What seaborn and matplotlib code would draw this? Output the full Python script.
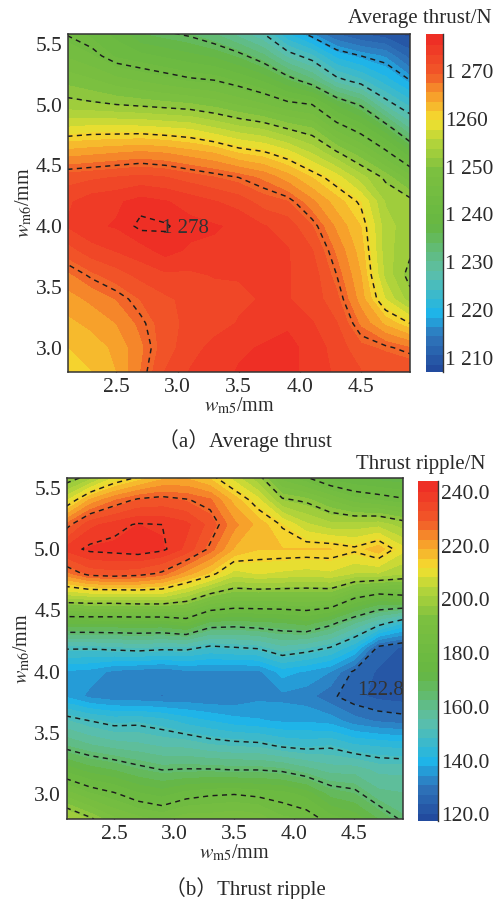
import numpy as np
import pandas as pd
import seaborn as sns
import matplotlib.pyplot as plt
from matplotlib.colors import LinearSegmentedColormap

sns.set_theme(style="ticks")
plt.rcParams['font.family'] = ['Liberation Serif', 'Noto Sans CJK SC']
plt.rcParams['mathtext.fontset'] = 'stix'

w5 = [2.1, 2.3, 2.5, 2.7, 2.9, 3.1, 3.3, 3.5, 3.7, 3.9, 4.1, 4.3, 4.5, 4.7, 4.9]
w6 = [5.6, 5.4, 5.2, 5.0, 4.8, 4.6, 4.4, 4.2, 4.0, 3.8, 3.6, 3.4, 3.2, 3.0, 2.8]

# one list per w5 column, top of the plot first
thrust = [
    [1243, 1246, 1249.5, 1253, 1258.5, 1265, 1271, 1273.5, 1274, 1271, 1267.5, 1265, 1263.5, 1262, 1260.8],
    [1241.5, 1244.5, 1248.5, 1252.5, 1259, 1265.5, 1271.5, 1275, 1275.5, 1273, 1269.5, 1266.5, 1264.5, 1263, 1262],
    [1239.5, 1242, 1247, 1252, 1259, 1266, 1272, 1275.5, 1276, 1274, 1271, 1268, 1266, 1264.5, 1264],
    [1236, 1241, 1246, 1251.5, 1259, 1266.5, 1272.5, 1276.6, 1277.8, 1275, 1272.5, 1270, 1268.5, 1267.5, 1268],
    [1235, 1240, 1245, 1251, 1258.5, 1266, 1272, 1276, 1277.5, 1276.6, 1273.5, 1271.5, 1271, 1271, 1272],
    [1234, 1239, 1244, 1250.5, 1258, 1265, 1271, 1275, 1276.5, 1275.5, 1273.5, 1272.5, 1272.5, 1273, 1274],
    [1232, 1238, 1243.5, 1249.5, 1256.5, 1264, 1270, 1274, 1276, 1275.5, 1274, 1273, 1273, 1274.5, 1275],
    [1229, 1236, 1242, 1248, 1255, 1262, 1269, 1273, 1275.5, 1275.5, 1274, 1273.5, 1274, 1275.5, 1276],
    [1226, 1233, 1240, 1246.5, 1254, 1261, 1267.5, 1271, 1274, 1275, 1274, 1274, 1275, 1276, 1276.5],
    [1220, 1228, 1236.5, 1244.5, 1252, 1259, 1265, 1270, 1273, 1274, 1274, 1274, 1275.5, 1276.5, 1276.5],
    [1216, 1225, 1233, 1243.5, 1250.5, 1256, 1262, 1266.5, 1270, 1272, 1273, 1273, 1274, 1275, 1275],
    [1212, 1220, 1227.5, 1238, 1245.5, 1252.5, 1259, 1263, 1265.5, 1267.5, 1269, 1270.5, 1272, 1273, 1273.5],
    [1210, 1218, 1225, 1234.5, 1242, 1249, 1255, 1260, 1262, 1263, 1264, 1265, 1267.5, 1270.5, 1272],
    [1209, 1216.5, 1221.5, 1228, 1237, 1244.5, 1251.5, 1254, 1255, 1255, 1255.5, 1258, 1263.5, 1269.5, 1272],
    [1208, 1212, 1218, 1224, 1230.5, 1239, 1247, 1253, 1253, 1252.5, 1251, 1253, 1260.5, 1268, 1272],
]
ripple = [
    [192, 208, 227, 238, 225, 202, 174, 151, 138, 138, 153, 163, 176, 190, 203],
    [198, 220, 236, 241, 231, 203, 174, 151, 137, 134, 150, 160, 172, 185, 198],
    [207, 226, 238.5, 241.5, 232, 203, 174, 152, 134, 132.5, 148, 158, 170, 182, 192],
    [212, 230, 240.5, 242.5, 231, 204, 174, 153, 133, 132, 148.5, 157, 167, 178, 189],
    [217, 231, 240, 241, 228, 204, 174, 152, 132, 131.5, 147, 155.5, 165, 176, 187],
    [218, 229.5, 238, 236, 221, 200, 177, 152, 134, 132, 144, 155, 165.5, 179, 190],
    [214, 227, 232, 228, 215, 193, 169, 149, 134, 131.5, 142, 153, 165.5, 180.5, 190],
    [206, 218, 224, 219, 207, 190, 168, 150, 134, 132, 140, 152, 165, 181, 191],
    [198, 210, 218, 216, 209, 190, 169, 151, 134, 134, 139, 151.5, 165, 180, 190],
    [185, 198, 212.5, 216, 208, 190, 170, 155, 140, 134, 138, 149, 164, 179, 185],
    [180, 196, 206, 216, 207, 190, 172, 153, 138, 133, 138, 148, 161, 176, 184],
    [174, 191, 203, 216, 208, 190, 167, 150, 135, 129, 137, 149, 158, 169, 179],
    [172, 186, 203, 214, 205, 181, 160, 143, 127, 125.5, 133, 146, 158, 167, 176],
    [171, 184, 204, 218, 205, 176, 153, 127, 124, 123.5, 131, 145, 155, 161, 170],
    [170, 182, 200, 210, 202, 178, 146, 124, 123, 122.8, 130, 144, 155, 160, 164],
]

thrust_lines = [1218, 1226.5, 1235, 1243.5, 1252, 1260.5, 1269, 1277.3]
ripple_lines = [128, 150, 165, 181, 197, 213, 229, 240]
thrust_ticks = [1210, 1220, 1230, 1240, 1250, 1260, 1270]
thrust_labels = ["1 210", "1 220", "1 230", "1 240", "1 250", "1260", "1 270"]
ripple_ticks = [120, 140, 160, 180, 200, 220, 240]
ripple_labels = ["120.0", "140.0", "160.0", "180.0", "200.0", "220.0", "240.0"]
w5_ticks = [2.5, 3.0, 3.5, 4.0, 4.5]
w6_ticks = [3.0, 3.5, 4.0, 4.5, 5.0, 5.5]

cmap = LinearSegmentedColormap.from_list("thrust", [
    (0.0, "#21469a"), (0.11, "#2f77bc"), (0.18, "#1fb4e8"), (0.30, "#5dbfa8"),
    (0.44, "#66b742"), (0.60, "#7cc040"), (0.69, "#b5d53a"), (0.75, "#f5e02f"),
    (0.82, "#f7a12b"), (0.89, "#f15a29"), (1.0, "#ee2a24")])
W, H = 495, 899


def panel(values, lines, lo, hi, ticks, ticklabels, title, caption, box, cbox, title_x, title_y, cap_y, note, note_xy):
    df = pd.DataFrame(np.array(values).T, index=w6, columns=w5)
    ax = fig.add_axes([box[0]/W, 1-box[3]/H, (box[2]-box[0])/W, (box[3]-box[1])/H])
    cax = fig.add_axes([cbox[0]/W, 1-cbox[3]/H, (cbox[2]-cbox[0])/W, (cbox[3]-cbox[1])/H])
    cf = ax.contourf(df.columns, df.index, df.values, levels=np.linspace(lo, hi, 37), cmap=cmap)
    ax.contour(df.columns, df.index, df.values, levels=lines, colors="#1c1c1c",
               linewidths=1.05, linestyles=[(0, (3.5, 3))])
    ax.set_xlim(2.105, 4.9)
    ax.set_ylim(2.8, 5.58)
    ax.set_xticks(w5_ticks)
    ax.set_yticks(w6_ticks)
    ax.set_xticklabels([f"{t:.1f}" for t in w5_ticks])
    ax.set_yticklabels([f"{t:.1f}" for t in w6_ticks])
    ax.tick_params(direction="in", length=3, width=0.9, labelsize=15.5, color="#333333", labelcolor="#2a2a2a", pad=4)
    ax.set_xlabel(r"$w_{\mathrm{m5}}$/mm", fontsize=14.5, color="#2a2a2a", labelpad=-1)
    ax.set_ylabel(r"$w_{\mathrm{m6}}$/mm", fontsize=14.5, color="#2a2a2a", labelpad=1)
    for s in ax.spines.values():
        s.set_linewidth(1.1)
        s.set_color("#333333")
    ax.text(note_xy[0], note_xy[1], note, fontsize=15, color="#333333", va="center")

    cb = fig.colorbar(cf, cax=cax)
    cb.solids.set_edgecolor("face")
    cb.set_ticks(ticks)
    cb.set_ticklabels(ticklabels)
    cax.minorticks_off()
    cax.tick_params(direction="in", length=2, width=0.9, labelsize=15.5, color="#333333", labelcolor="#2a2a2a", pad=2)
    cb.outline.set_linewidth(0)
    cax.spines["right"].set_visible(True)
    cax.spines["right"].set_linewidth(1.0)
    cax.spines["right"].set_color("#333333")

    fig.text(title_x/W, 1-title_y/H, title, fontsize=15, color="#2a2a2a", ha="right", va="center")
    fig.text(245/W, 1-cap_y/H, caption, fontsize=15, color="#2a2a2a", ha="center", va="center")


fig = plt.figure(figsize=(W/100, H/100), dpi=100)
panel(thrust, thrust_lines, 1207, 1277.8, thrust_ticks, thrust_labels, "Average thrust/N",
      "（a）Average thrust", (68, 34, 410, 372), (426, 34, 442.5, 372), 492, 19, 441, "1 278", (2.87, 3.98))
panel(ripple, ripple_lines, 117.5, 244, ripple_ticks, ripple_labels, "Thrust ripple/N",
      "（b）Thrust ripple", (66.5, 478, 402.5, 819), (418, 481, 438, 821), 485, 464, 889, "122.8", (4.52, 3.85))
plt.savefig("out.png", dpi=100)
